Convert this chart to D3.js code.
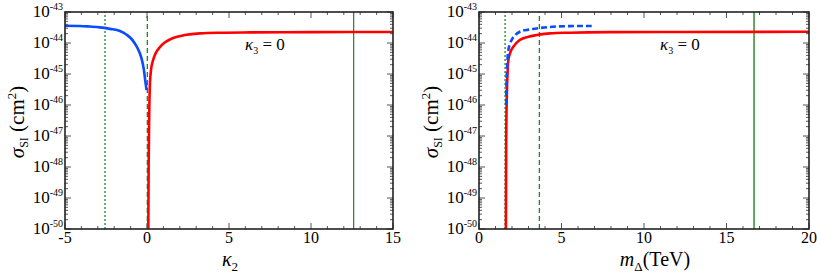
<!DOCTYPE html>
<html>
<head>
<meta charset="utf-8">
<script src="https://cdn.jsdelivr.net/npm/d3@7"></script>
<style>
  body { margin: 0; background: #fff; }
</style>
</head>
<body>
<svg id="chart" width="817" height="277" font-family="'Liberation Serif', 'DejaVu Serif', serif"></svg>
<script>
'use strict';

// Left panel: sigma_SI vs kappa_2
var k2Blue = [-5, -4.09, -3.5, -2.87, -2.26, -1.65, -1.24, -1.0, -0.84, -0.6, -0.43, -0.3, -0.24, -0.18, -0.12, -0.07, -0.03];
var sigBlueL = [3.6e-44, 3.55e-44, 3.4e-44, 3.2e-44, 2.85e-44, 2.45e-44, 1.85e-44, 1.45e-44, 1.15e-44, 7.2e-45, 4.6e-45, 2.7e-45, 1.9e-45, 1.25e-45, 7.0e-46, 4.5e-46, 3.0e-46];
var k2Red = [0.08, 0.10, 0.13, 0.18, 0.25, 0.37, 0.55, 0.79, 1.1, 1.59, 2.3, 3.23, 4.5, 6.3, 10, 15];
var sigRedL = [1e-50, 1e-48, 3.2e-47, 5.1e-46, 1.4e-45, 2.8e-45, 4.9e-45, 7.4e-45, 1.05e-44, 1.45e-44, 1.8e-44, 2.05e-44, 2.15e-44, 2.2e-44, 2.24e-44, 2.26e-44];
var k2Dotted = -2.56, k2Dashed = 0.02, k2Solid = 12.6;

// Right panel: sigma_SI vs m_Delta
var mRed = [1.63, 1.65, 1.70, 1.74, 1.78, 1.9, 2.08, 2.48, 3.0, 3.5, 4.3, 5.5, 7.9, 12, 20];
var sigRedR = [1e-50, 1e-47, 3.8e-46, 1.3e-45, 2.8e-45, 5.0e-45, 7.6e-45, 1.26e-44, 1.6e-44, 1.8e-44, 2.05e-44, 2.15e-44, 2.24e-44, 2.27e-44, 2.3e-44];
var mBlue = [1.65, 1.68, 1.72, 1.78, 1.88, 1.98, 2.2, 2.48, 3.0, 3.5, 4.3, 5.5, 6.83];
var sigBlueR = [1e-46, 8.1e-46, 2.6e-45, 5.9e-45, 9.5e-45, 1.26e-44, 1.8e-44, 2.3e-44, 2.7e-44, 2.95e-44, 3.3e-44, 3.5e-44, 3.55e-44];
var mDotted = 1.58, mDashed = 3.66, mSolid = 16.67;

var yExps = [-43, -44, -45, -46, -47, -48, -49, -50];

var svg = d3.select("#chart");

function toPts(xs, ys) {
    return xs.map(function(x, i) { return [x, ys[i]]; });
}

function panel(opt) {
    var g = svg.append("g");
    var x = d3.scaleLinear().domain(opt.xdom).range([opt.left, opt.right]);
    var y = d3.scaleLog().domain([1e-50, 1e-43]).range([229, 12]);

    // vertical green lines
    opt.vlines.forEach(function(v) {
        g.append("line")
            .attr("x1", x(v.at)).attr("x2", x(v.at))
            .attr("y1", y(1e-50)).attr("y2", y(1e-43))
            .attr("stroke", v.color)
            .attr("stroke-width", v.w)
            .attr("stroke-dasharray", v.dash);
    });

    var line = d3.line()
        .x(function(d) { return x(d[0]); })
        .y(function(d) { return y(d[1]); })
        .curve(d3.curveMonotoneX);

    opt.series.forEach(function(s) {
        g.append("path")
            .attr("d", line(s.pts))
            .attr("fill", "none")
            .attr("stroke", s.color)
            .attr("stroke-width", 2.6)
            .attr("stroke-dasharray", s.dash);
    });

    // ticks
    var tk = g.append("g").attr("stroke", "#555").attr("stroke-width", 1);
    d3.range(opt.xdom[0], opt.xdom[1] + 0.001, 1).forEach(function(v) {
        var major = (v % 5 === 0);
        var len = major ? 6 : 3;
        tk.append("line").attr("x1", x(v)).attr("x2", x(v)).attr("y1", 229).attr("y2", 229 - len);
        tk.append("line").attr("x1", x(v)).attr("x2", x(v)).attr("y1", 12).attr("y2", 12 + len);
    });
    yExps.forEach(function(e) {
        [1, 2, 3, 4, 5, 6, 7, 8, 9].forEach(function(m) {
            if (e === -43 && m > 1) return;
            var yy = y(m * Math.pow(10, e));
            var len = m === 1 ? 6 : 3;
            tk.append("line").attr("x1", opt.left).attr("x2", opt.left + len).attr("y1", yy).attr("y2", yy);
            tk.append("line").attr("x1", opt.right).attr("x2", opt.right - len).attr("y1", yy).attr("y2", yy);
        });
    });

    // frame
    g.append("rect")
        .attr("x", opt.left).attr("y", 12)
        .attr("width", opt.right - opt.left).attr("height", 217)
        .attr("fill", "none").attr("stroke", "#222").attr("stroke-width", 1.6);

    // y tick labels
    yExps.forEach(function(e) {
        var t = g.append("text")
            .attr("x", opt.left - 2)
            .attr("y", y(Math.pow(10, e)) + 5)
            .attr("text-anchor", "end")
            .style("font-size", "17px");
        t.append("tspan").text("10");
        t.append("tspan").attr("dy", -7).style("font-size", "10px").text(String(e));
    });

    // x tick labels
    opt.xticks.forEach(function(v) {
        g.append("text")
            .attr("x", x(v)).attr("y", 243)
            .attr("text-anchor", "middle")
            .style("font-size", "16px")
            .text(v);
    });

    // y axis title
    var yt = g.append("text")
        .attr("transform", "translate(" + (opt.left - 41) + ",122) rotate(-90)")
        .attr("text-anchor", "middle")
        .style("font-size", "21px");
    yt.append("tspan").style("font-style", "italic").text("σ");
    yt.append("tspan").attr("dy", 4).style("font-size", "12px").text("SI");
    yt.append("tspan").attr("dy", -4).text(" (cm");
    yt.append("tspan").attr("dy", -8).style("font-size", "13px").text("2");
    yt.append("tspan").attr("dy", 8).text(")");

    // x axis title
    var xt = g.append("text")
        .attr("x", opt.xtitleX).attr("y", 266)
        .attr("text-anchor", "middle")
        .style("font-size", "20px");
    opt.xtitle(xt);

    // annotation
    var an = g.append("text")
        .attr("x", opt.annX).attr("y", 50)
        .style("font-size", "17px");
    an.append("tspan").style("font-style", "italic").text("κ");
    an.append("tspan").attr("dy", 4).style("font-size", "10px").text("3");
    an.append("tspan").attr("dy", -4).text(" = 0");
}

panel({
    left: 65, right: 393, xdom: [-5, 15], xticks: [-5, 0, 5, 10, 15],
    vlines: [
        {at: k2Dotted, color: "#1a8a1a", w: 1.3, dash: "2,2"},
        {at: k2Dashed, color: "#1a8a1a", w: 1.3, dash: "5,3"},
        {at: k2Solid, color: "#2e8b2e", w: 1.3, dash: null}
    ],
    series: [
        {pts: toPts(k2Blue, sigBlueL), color: "#0a4cff", dash: null},
        {pts: toPts(k2Red, sigRedL), color: "#ff0000", dash: null}
    ],
    xtitleX: 230,
    xtitle: function(t) {
        t.append("tspan").style("font-style", "italic").text("κ");
        t.append("tspan").attr("dy", 5).style("font-size", "13px").text("2");
    },
    annX: 245
});

panel({
    left: 479, right: 809, xdom: [0, 20], xticks: [0, 5, 10, 15, 20],
    vlines: [
        {at: mDotted, color: "#1a8a1a", w: 1.3, dash: "2,2"},
        {at: mDashed, color: "#1a8a1a", w: 1.3, dash: "5,3"},
        {at: mSolid, color: "#3c963c", w: 1.6, dash: null}
    ],
    series: [
        {pts: toPts(mRed, sigRedR), color: "#ff0000", dash: null},
        {pts: toPts(mBlue, sigBlueR), color: "#0a4cff", dash: "6,3"}
    ],
    xtitleX: 655,
    xtitle: function(t) {
        t.append("tspan").style("font-style", "italic").text("m");
        t.append("tspan").attr("dy", 5).style("font-size", "13px").text("Δ");
        t.append("tspan").attr("dy", -5).text("(TeV)");
    },
    annX: 660
});
</script>
</body>
</html>
